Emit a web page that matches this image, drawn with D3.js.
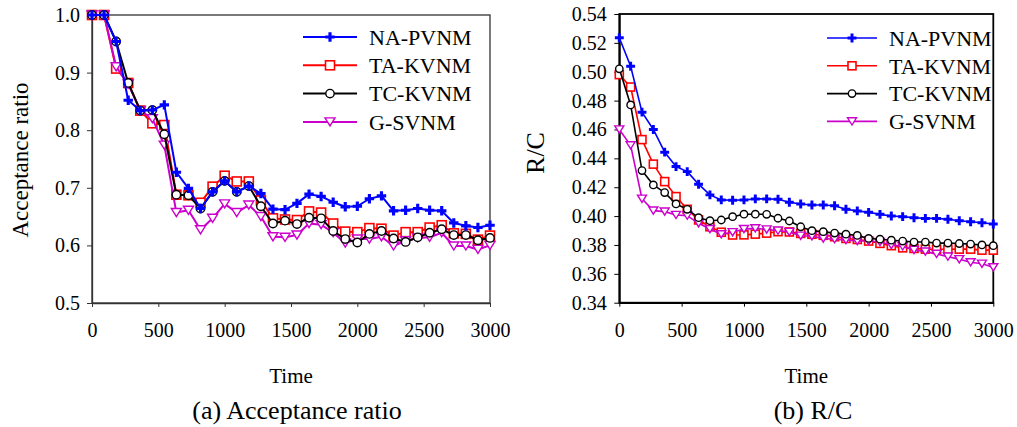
<!DOCTYPE html>
<html>
<head>
<meta charset="utf-8">
<script src="https://cdn.jsdelivr.net/npm/d3@7"></script>
<style>
  body { margin: 0; background: #fff; }
  svg { display: block; font-family: "Liberation Serif", "Times New Roman", serif; }
</style>
</head>
<body>
<div id="chart"></div>
<script>
////////////////////////////////////////
// data
////////////////////////////////////////

var times = [0, 91, 182, 273, 364, 455, 545, 636, 727, 818, 909, 1000, 1091, 1182, 1273, 1364, 1455,
    1545, 1636, 1727, 1818, 1909, 2000, 2091, 2182, 2273, 2364, 2455, 2545, 2636, 2727, 2818, 2909, 3000];

var seriesNames = ["NA-PVNM", "TA-KVNM", "TC-KVNM", "G-SVNM"];

var xTicks = [0, 500, 1000, 1500, 2000, 2500, 3000];
var accTicks = [0.5, 0.6, 0.7, 0.8, 0.9, 1.0];
var rcTicks = [0.34, 0.36, 0.38, 0.40, 0.42, 0.44, 0.46, 0.48, 0.50, 0.52, 0.54];

// (a) acceptance ratio
var accNA = [1.0, 1.0, 0.954, 0.852, 0.834, 0.835, 0.844, 0.727, 0.699, 0.664, 0.693, 0.712, 0.693, 0.703,
    0.690, 0.663, 0.662, 0.673, 0.689, 0.685, 0.675, 0.667, 0.668, 0.681, 0.686, 0.660, 0.661, 0.664,
    0.661, 0.660, 0.639, 0.634, 0.631, 0.635];
var accTA = [1.0, 1.0, 0.907, 0.882, 0.834, 0.812, 0.809, 0.688, 0.687, 0.674, 0.702, 0.721, 0.711, 0.711,
    0.678, 0.647, 0.645, 0.644, 0.659, 0.657, 0.638, 0.624, 0.623, 0.630, 0.629, 0.617, 0.623, 0.623,
    0.631, 0.635, 0.621, 0.620, 0.610, 0.617];
var accTC = [1.0, 1.0, 0.954, 0.882, 0.834, 0.835, 0.793, 0.688, 0.687, 0.664, 0.693, 0.712, 0.693, 0.703,
    0.668, 0.638, 0.643, 0.637, 0.648, 0.647, 0.625, 0.611, 0.605, 0.620, 0.625, 0.612, 0.606, 0.614,
    0.622, 0.628, 0.618, 0.618, 0.609, 0.613];
var accG = [1.0, 1.0, 0.910, 0.880, 0.834, 0.820, 0.774, 0.657, 0.661, 0.627, 0.647, 0.672, 0.657, 0.670,
    0.650, 0.615, 0.614, 0.618, 0.638, 0.636, 0.622, 0.604, 0.611, 0.611, 0.615, 0.599, 0.608, 0.613,
    0.614, 0.622, 0.599, 0.599, 0.593, 0.600];

// (b) R/C
var rcNA = [0.5235, 0.5038, 0.472, 0.460, 0.4443, 0.4343, 0.4308, 0.4221, 0.4147, 0.4112, 0.4110, 0.4112,
    0.4119, 0.4119, 0.4117, 0.4096, 0.4084, 0.4077, 0.4077, 0.4072, 0.4047, 0.4036, 0.4026, 0.4012,
    0.4001, 0.3996, 0.3989, 0.3984, 0.3984, 0.3978, 0.3968, 0.3961, 0.3954, 0.3945];
var rcTA = [0.498, 0.4894, 0.453, 0.436, 0.4239, 0.4135, 0.4047, 0.3973, 0.3926, 0.3888, 0.3869, 0.3870,
    0.3875, 0.3882, 0.3892, 0.3890, 0.3880, 0.3874, 0.3867, 0.3857, 0.3845, 0.3838, 0.3827, 0.3811,
    0.3795, 0.3780, 0.3776, 0.3771, 0.3770, 0.3770, 0.3771, 0.3771, 0.3764, 0.3764];
var rcTC = [0.502, 0.477, 0.4315, 0.4216, 0.4163, 0.4084, 0.4047, 0.3989, 0.3968, 0.3973, 0.3996, 0.4013,
    0.4013, 0.4012, 0.3985, 0.3966, 0.3926, 0.3899, 0.3892, 0.3882, 0.3875, 0.3866, 0.3845, 0.3840,
    0.3833, 0.3827, 0.3820, 0.3820, 0.3813, 0.3813, 0.3810, 0.3806, 0.3800, 0.3795];
var rcG = [0.460, 0.449, 0.412, 0.4038, 0.4031, 0.4008, 0.4003, 0.3950, 0.3910, 0.3874, 0.3888, 0.3910,
    0.3915, 0.3907, 0.3899, 0.3890, 0.3864, 0.3860, 0.3845, 0.3840, 0.3834, 0.3827, 0.3827, 0.3820,
    0.3800, 0.3790, 0.3765, 0.3754, 0.3738, 0.3719, 0.3701, 0.3680, 0.3670, 0.3645];

////////////////////////////////////////

var width = 1017, height = 427;
var fontFamily = '"Liberation Serif", "Times New Roman", serif';

var styles = {
    "NA-PVNM": { color: "#0000ff", marker: "cross" },
    "TA-KVNM": { color: "#ff0000", marker: "square" },
    "TC-KVNM": { color: "#000000", marker: "circle" },
    "G-SVNM":  { color: "#cc00cc", marker: "triangle" }
};

// red first, then magenta, black and blue on top (as in the picture)
var drawOrder = ["TA-KVNM", "G-SVNM", "TC-KVNM", "NA-PVNM"];

var svg = d3.select("#chart").append("svg")
    .attr("width", width)
    .attr("height", height);

svg.append("rect").attr("width", width).attr("height", height).attr("fill", "#fff");

////////////////////////////////////////

function drawMarker(g, type, color, x, y, s) {
    if (type === "cross") {
        g.append("path")
            .attr("d", d3.symbol(d3.symbolCross, s * 5.5)())
            .attr("transform", "translate(" + x + "," + y + ")")
            .attr("fill", color);
    } else if (type === "square") {
        g.append("rect")
            .attr("x", x - s / 2).attr("y", y - s / 2)
            .attr("width", s).attr("height", s)
            .attr("fill", "#fff").attr("stroke", color).attr("stroke-width", 1.6);
    } else if (type === "circle") {
        g.append("circle")
            .attr("cx", x).attr("cy", y).attr("r", s / 2 - 0.3)
            .attr("fill", "#fff").attr("stroke", color).attr("stroke-width", 1.4);
    } else {
        var h = s * 0.9;
        g.append("path")
            .attr("d", "M" + (x - s / 2 - 0.5) + "," + (y - h / 2) + "L" + (x + s / 2 + 0.5) + "," + (y - h / 2) +
                "L" + x + "," + (y + h / 2) + "Z")
            .attr("fill", "#fff").attr("stroke", color).attr("stroke-width", 1.4);
    }
}

////////////////////////////////////////

function drawPanel(cfg) {
    var g = svg.append("g");

    var x = d3.scaleLinear().domain([0, 3000]).range([cfg.left, cfg.right]);
    var y = d3.scaleLinear().domain(cfg.yDomain).range([cfg.bottom, cfg.top]);

    // frame
    g.append("rect")
        .attr("x", cfg.left).attr("y", cfg.top)
        .attr("width", cfg.right - cfg.left).attr("height", cfg.bottom - cfg.top)
        .attr("fill", "none").attr("stroke", cfg.frameColor).attr("stroke-width", cfg.frameWidth);

    var xAxis = g.append("g")
        .attr("transform", "translate(0," + cfg.bottom + ")")
        .call(d3.axisBottom(x).tickValues(xTicks).tickFormat(d3.format("d"))
            .tickSizeInner(4).tickSizeOuter(0).tickPadding(16));

    var yAxis = g.append("g")
        .attr("transform", "translate(" + cfg.left + ",0)")
        .call(d3.axisLeft(y).tickValues(cfg.yTicks).tickFormat(d3.format(cfg.yFormat))
            .tickSizeInner(5).tickSizeOuter(0).tickPadding(cfg.yPad));

    [xAxis, yAxis].forEach(function (a) {
        a.select(".domain").attr("stroke", cfg.frameColor).attr("stroke-width", cfg.frameWidth);
        a.selectAll(".tick line").attr("stroke", cfg.frameColor);
        a.selectAll(".tick text")
            .attr("fill", "#000")
            .style("font-family", fontFamily)
            .style("font-size", "20px");
    });

    // series
    var line = d3.line()
        .x(function (d, i) { return x(times[i]); })
        .y(function (d) { return y(d); });

    drawOrder.forEach(function (name) {
        var st = styles[name];
        var vals = cfg.series[name];
        g.append("path")
            .datum(vals)
            .attr("d", line)
            .attr("fill", "none")
            .attr("stroke", st.color)
            .attr("stroke-width", cfg.lineWidth)
            .attr("stroke-linejoin", "round");
        var mg = g.append("g");
        vals.forEach(function (v, i) {
            drawMarker(mg, st.marker, st.color, x(times[i]), y(v), cfg.markerSize);
        });
    });

    // legend
    seriesNames.forEach(function (name, i) {
        var st = styles[name];
        var ly = cfg.legendY + i * cfg.legendStep;
        g.append("line")
            .attr("x1", cfg.legendX).attr("x2", cfg.legendX + cfg.legendLen)
            .attr("y1", ly).attr("y2", ly)
            .attr("stroke", st.color).attr("stroke-width", cfg.lineWidth);
        drawMarker(g, st.marker, st.color, cfg.legendX + cfg.legendLen / 2, ly, cfg.markerSize);
        g.append("text")
            .attr("x", cfg.legendX + cfg.legendLen + 12)
            .attr("y", ly)
            .attr("dy", "0.35em")
            .style("font-family", fontFamily)
            .style("font-size", "22px")
            .text(name);
    });

    // axis titles and caption
    g.append("text")
        .attr("transform", "translate(" + cfg.yTitleX + "," + cfg.yTitleY + ") rotate(-90)")
        .attr("text-anchor", "middle")
        .attr("dy", "0.35em")
        .style("font-family", fontFamily)
        .style("font-size", cfg.yTitleSize + "px")
        .text(cfg.yTitle);

    g.append("text")
        .attr("x", (cfg.left + cfg.right) / 2)
        .attr("y", 383)
        .attr("text-anchor", "middle")
        .style("font-family", fontFamily)
        .style("font-size", "21px")
        .text("Time");

    g.append("text")
        .attr("x", cfg.captionX)
        .attr("y", 419)
        .attr("text-anchor", "middle")
        .style("font-family", fontFamily)
        .style("font-size", "26px")
        .text(cfg.caption);
}

////////////////////////////////////////

drawPanel({
    left: 92, right: 490, top: 15, bottom: 303,
    yDomain: [0.5, 1.0], yTicks: accTicks, yFormat: ".1f", yPad: 7,
    frameColor: "#333", frameWidth: 1.3, lineWidth: 2, markerSize: 9,
    series: { "NA-PVNM": accNA, "TA-KVNM": accTA, "TC-KVNM": accTC, "G-SVNM": accG },
    legendX: 303, legendLen: 54, legendY: 37, legendStep: 28.3,
    yTitle: "Acceptance ratio", yTitleX: 20, yTitleY: 160, yTitleSize: 23,
    caption: "(a) Acceptance ratio", captionX: 297
});

drawPanel({
    left: 619.3, right: 993.3, top: 14, bottom: 302.7,
    yDomain: [0.34, 0.54], yTicks: rcTicks, yFormat: ".2f", yPad: 7.6,
    frameColor: "#000", frameWidth: 1.8, lineWidth: 1.6, markerSize: 8,
    series: { "NA-PVNM": rcNA, "TA-KVNM": rcTA, "TC-KVNM": rcTC, "G-SVNM": rcG },
    legendX: 827, legendLen: 50, legendY: 38, legendStep: 27.8,
    yTitle: "R/C", yTitleX: 535, yTitleY: 153, yTitleSize: 26,
    caption: "(b) R/C", captionX: 813
});
</script>
</body>
</html>
